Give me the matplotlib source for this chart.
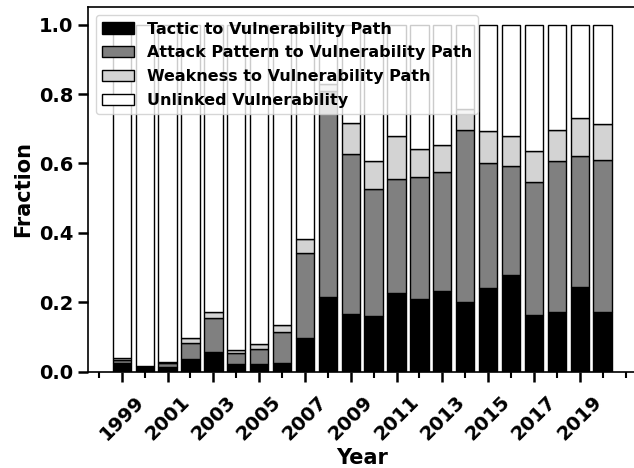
import numpy as np
import matplotlib
matplotlib.use('Agg')
from matplotlib import pyplot as plt
from matplotlib.ticker import FixedLocator

years = np.arange(1999, 2021)

# fraction of vulnerabilities per year, one list per path type
tactic = [0.024, 0.017, 0.013, 0.036, 0.056, 0.021, 0.022, 0.026, 0.096, 0.214, 0.165,
          0.160, 0.227, 0.209, 0.232, 0.201, 0.242, 0.280, 0.163, 0.171, 0.245, 0.172]
attack = [0.009, 0.000, 0.011, 0.046, 0.098, 0.032, 0.042, 0.089, 0.245, 0.596, 0.462,
          0.365, 0.328, 0.352, 0.342, 0.494, 0.358, 0.313, 0.384, 0.436, 0.377, 0.437]
weakness = [0.007, 0.000, 0.003, 0.014, 0.019, 0.009, 0.015, 0.019, 0.040, 0.020, 0.090,
            0.081, 0.123, 0.080, 0.080, 0.063, 0.094, 0.086, 0.088, 0.089, 0.109, 0.106]
unlinked = [0.960, 0.983, 0.973, 0.904, 0.827, 0.938, 0.921, 0.866, 0.619, 0.170, 0.283,
            0.394, 0.322, 0.359, 0.346, 0.242, 0.306, 0.321, 0.365, 0.304, 0.269, 0.285]

labels = ["Tactic to Vulnerability Path", "Attack Pattern to Vulnerability Path",
          "Weakness to Vulnerability Path", "Unlinked Vulnerability"]
colors = ["black", "grey", "lightgrey", "white"]
major_years = np.arange(1999, 2020, 2)

plt.rcParams['font.family'] = ['DejaVu Sans']
plt.rcParams['font.weight'] = 'bold'
plt.rcParams['axes.labelweight'] = 'bold'

fig = plt.figure(figsize=(6.34, 4.68), dpi=100)
ax = fig.add_axes([0.1383, 0.2058, 0.866, 0.7786])

bottom = np.zeros(len(years))
for vals, lab, col in zip([tactic, attack, weakness, unlinked], labels, colors):
    ax.bar(years, vals, width=0.8, bottom=bottom, color=col, edgecolor='black',
           linewidth=1, label=lab)
    bottom = bottom + np.array(vals)

ax.xaxis.set_major_locator(FixedLocator(major_years))
ax.xaxis.set_minor_locator(FixedLocator(np.arange(1998, 2022)))
ax.set_xticklabels([str(y) for y in major_years], rotation=45, fontsize=14, fontweight='bold')
ax.set_yticks([0.0, 0.2, 0.4, 0.6, 0.8, 1.0])
ax.set_yticklabels(["0.0", "0.2", "0.4", "0.6", "0.8", "1.0"], fontsize=14, fontweight='bold')
ax.tick_params(which='major', length=7, width=1.8)
ax.tick_params(which='minor', length=4, width=1.5)
ax.tick_params(axis='x', which='major', pad=8)
for s in ax.spines.values():
    s.set_linewidth(1.2)

ax.set_xlabel("Year", fontsize=15, fontweight='bold', labelpad=3)
ax.set_ylabel("Fraction", fontsize=15, fontweight='bold')

ax.legend(loc='upper left', prop={'size': 11.5, 'weight': 'bold'}, labelspacing=0.55)

plt.savefig('out.png', dpi=100)
